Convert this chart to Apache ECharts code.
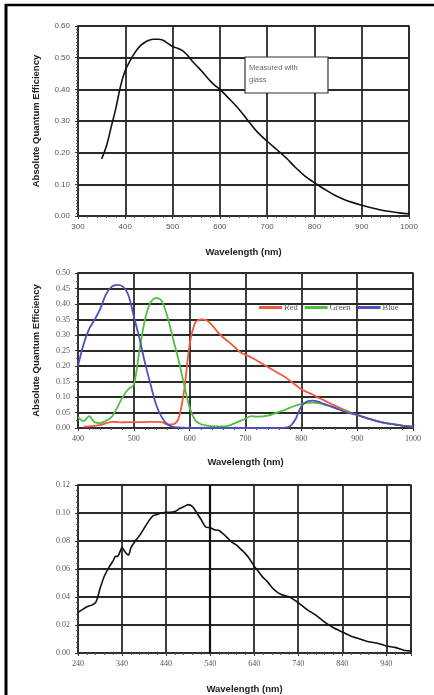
<!DOCTYPE html>
<html><head>
<meta charset="utf-8">
<title>Quantum Efficiency</title>
<script src="https://cdn.jsdelivr.net/npm/echarts@6/dist/echarts.min.js"></script>
<style>
html,body{margin:0;padding:0;background:#fff;}
#main{width:434px;height:695px;}
</style>
</head>
<body>
<div id="main"></div>
<script type="text/javascript">
// chart 1 - mono, measured with glass
var wl1 = [350,360,370,380,390,400,410,420,430,440,450,460,470,480,490,500,510,520,530,540,550,560,570,580,590,600,620,640,660,680,700,720,740,760,780,800,820,840,860,880,900,920,940,960,980,1000];
var qe1 = [0.18,0.22,0.28,0.34,0.41,0.46,0.49,0.515,0.535,0.547,0.555,0.558,0.558,0.555,0.545,0.535,0.530,0.523,0.510,0.492,0.476,0.460,0.443,0.426,0.412,0.400,0.370,0.338,0.300,0.264,0.236,0.210,0.184,0.153,0.126,0.105,0.086,0.068,0.054,0.043,0.034,0.026,0.019,0.014,0.010,0.007];

// chart 2 - colour
var wl2 = [400,410,420,430,440,450,460,470,480,490,500,510,520,530,540,550,560,570,580,590,600,610,620,630,640,650,660,670,680,690,700,710,720,740,760,770,780,790,800,810,820,830,840,860,880,900,920,940,960,980,1000];
var red = [null,0.004,0.005,0.007,0.010,0.015,0.020,0.019,0.018,0.019,0.019,0.019,0.019,0.020,0.020,0.019,0.012,0.012,0.030,0.120,0.270,0.340,0.350,0.348,0.332,0.310,0.292,0.278,0.262,0.245,0.236,0.228,0.218,0.197,0.176,0.165,0.152,0.138,0.125,0.116,0.108,0.098,0.090,0.072,0.056,0.042,0.030,0.020,0.013,0.008,0.004];
var green = [0.035,0.022,0.038,0.018,0.016,0.023,0.035,0.065,0.100,0.125,0.140,0.250,0.350,0.405,0.420,0.410,0.360,0.290,0.220,0.140,0.065,0.025,0.012,0.008,0.006,0.005,0.005,0.008,0.015,0.022,0.030,0.038,0.037,0.040,0.052,0.058,0.066,0.072,0.078,0.081,0.082,0.080,0.076,0.065,0.053,0.042,0.030,0.020,0.013,0.008,0.004];
var blue = [0.200,0.270,0.320,0.350,0.385,0.430,0.455,0.462,0.457,0.430,0.360,0.290,0.210,0.140,0.075,0.035,0.012,0.004,0.002,0.001,0,0,0,0,0,0,0,0,0,0,0,0,0,0,0,0.001,0.006,0.030,0.070,0.085,0.088,0.085,0.078,0.065,0.051,0.042,0.030,0.020,0.013,0.008,0.004];

// chart 3 - low sensitivity
var wl3 = [240,250,260,270,280,285,290,300,310,320,325,330,335,340,345,350,355,360,370,380,390,400,410,420,430,440,450,460,470,480,490,500,510,520,530,540,550,560,570,580,590,600,610,620,630,640,650,660,670,680,690,700,720,740,760,780,800,820,840,860,880,900,920,940,960,980,995];
var qe3 = [0.029,0.031,0.033,0.034,0.036,0.040,0.046,0.055,0.061,0.066,0.069,0.069,0.072,0.0755,0.073,0.071,0.070,0.075,0.080,0.084,0.089,0.094,0.098,0.099,0.100,0.1005,0.1005,0.101,0.103,0.1045,0.106,0.1045,0.100,0.095,0.090,0.0895,0.088,0.0875,0.085,0.082,0.079,0.077,0.074,0.071,0.067,0.062,0.058,0.054,0.051,0.047,0.044,0.042,0.040,0.036,0.031,0.027,0.022,0.018,0.015,0.012,0.010,0.008,0.007,0.005,0.004,0.002,0.0015];

function pairs(xs, ys){
    var arr=[];
    for (var i=0;i<xs.length;i++){
        if (ys[i]!==null) arr.push([xs[i], ys[i]]);
    }
    return arr;
}

var sans = 'Liberation Sans';
var serif = 'Liberation Serif';

function yAxisOf(idx, max, interval, font, minorSplit, name){
    return {
        type:'value', gridIndex: idx, min:0, max:max, interval:interval,
        name: name || '', nameLocation:'middle', nameGap: 37,
        nameTextStyle:{fontFamily:sans, fontWeight:'bold', fontSize:9.5, color:'#222'},
        axisLine:{show:true, lineStyle:{color:'#333', width:1.5}},
        axisTick:{show:true, length:3, lineStyle:{color:'#333'}},
        minorTick:{show:true, splitNumber:minorSplit, length:2, lineStyle:{color:'#555'}},
        axisLabel:{fontFamily:font, fontSize:8, color:'#555', margin:8,
            formatter:function(v){return v.toFixed(2);}},
        splitLine:{show:true, lineStyle:{color:'#2a2a2a', width:1.8}}
    };
}
function xAxisOf(idx, min, max, font, gap){
    return {
        type:'value', gridIndex: idx, min:min, max:max, interval:100,
        name:'Wavelength (nm)', nameLocation:'middle', nameGap: gap,
        nameTextStyle:{fontFamily:sans, fontWeight:'bold', fontSize:9.5, color:'#222'},
        axisLine:{show:true, lineStyle:{color:'#333', width:1.5}},
        axisTick:{show:true, length:3, lineStyle:{color:'#333'}},
        minorTick:{show:true, splitNumber:5, length:2, lineStyle:{color:'#555'}},
        axisLabel:{fontFamily:font, fontSize:8, color:'#555', margin:7,
            showMaxLabel: max % 100 === 0, formatter:function(v){return String(v);}},
        splitLine:{show:true, lineStyle:{color:'#2a2a2a', width:1.8}}
    };
}

var myChart = echarts.init(document.getElementById('main'));

var option = {
    backgroundColor:'#fff',
    animation:false,
    grid:[
        {left:78, top:26, width:331, height:190, show:true, borderColor:'#333', borderWidth:1.5},
        {left:78, top:273, width:335, height:155, show:true, borderColor:'#333', borderWidth:1.5},
        {left:78, top:485, width:333, height:168, show:true, borderColor:'#333', borderWidth:1.5}
    ],
    xAxis:[
        xAxisOf(0, 300, 1000, sans, 31),
        xAxisOf(1, 400, 1000, serif, 29),
        xAxisOf(2, 240, 996, serif, 31)
    ],
    yAxis:[
        yAxisOf(0, 0.6, 0.1, sans, 10, 'Absolute Quantum Efficiency'),
        yAxisOf(1, 0.5, 0.05, serif, 2, 'Absolute Quantum Efficiency'),
        yAxisOf(2, 0.12, 0.02, serif, 5, '')
    ],
    legend:{
        data:['Red','Green','Blue'],
        left:254, top:298, itemGap:7, itemWidth:23, itemHeight:3,
        icon:'rect',
        textStyle:{fontFamily:serif, fontSize:8.5, color:'#555', padding:[0,0,0,-3]}
    },
    graphic:[
        {type:'line', shape:{x1:5, y1:5, x2:434, y2:5}, style:{stroke:'#000', lineWidth:2.5}},
        {type:'line', shape:{x1:6, y1:4, x2:6, y2:695}, style:{stroke:'#000', lineWidth:3}},
        {type:'rect', shape:{x:245, y:57, width:83, height:36},
            style:{fill:'#fff', stroke:'#333', lineWidth:1.2}, z:100},
        {type:'text', left:249, top:62, z:101,
            style:{text:'Measured with\nglass', fontFamily:sans, fontSize:7.5, lineHeight:12, fill:'#666'}}
    ],
    series:[
        {type:'line', xAxisIndex:0, yAxisIndex:0, data:pairs(wl1, qe1), smooth:0.3,
            showSymbol:false, lineStyle:{color:'#111', width:1.6}},
        {name:'Red', type:'line', xAxisIndex:1, yAxisIndex:1, data:pairs(wl2, red), smooth:0.3,
            showSymbol:false, itemStyle:{color:'#ef5a3a'}, lineStyle:{color:'#ef5a3a', width:1.8}},
        {name:'Green', type:'line', xAxisIndex:1, yAxisIndex:1, data:pairs(wl2, green), smooth:0.3,
            showSymbol:false, itemStyle:{color:'#4fbf3f'}, lineStyle:{color:'#4fbf3f', width:1.8}},
        {name:'Blue', type:'line', xAxisIndex:1, yAxisIndex:1, data:pairs(wl2, blue), smooth:0.3,
            showSymbol:false, itemStyle:{color:'#5050b8'}, lineStyle:{color:'#5050b8', width:1.8}},
        {type:'line', xAxisIndex:2, yAxisIndex:2, data:pairs(wl3, qe3), smooth:0.2,
            showSymbol:false, lineStyle:{color:'#111', width:1.6},
            markLine:{silent:true, symbol:'none', label:{show:false},
                lineStyle:{color:'#111', width:2.2, type:'solid'}, data:[{xAxis:540}]}}
    ]
};

myChart.setOption(option);
</script>
</body>
</html>
